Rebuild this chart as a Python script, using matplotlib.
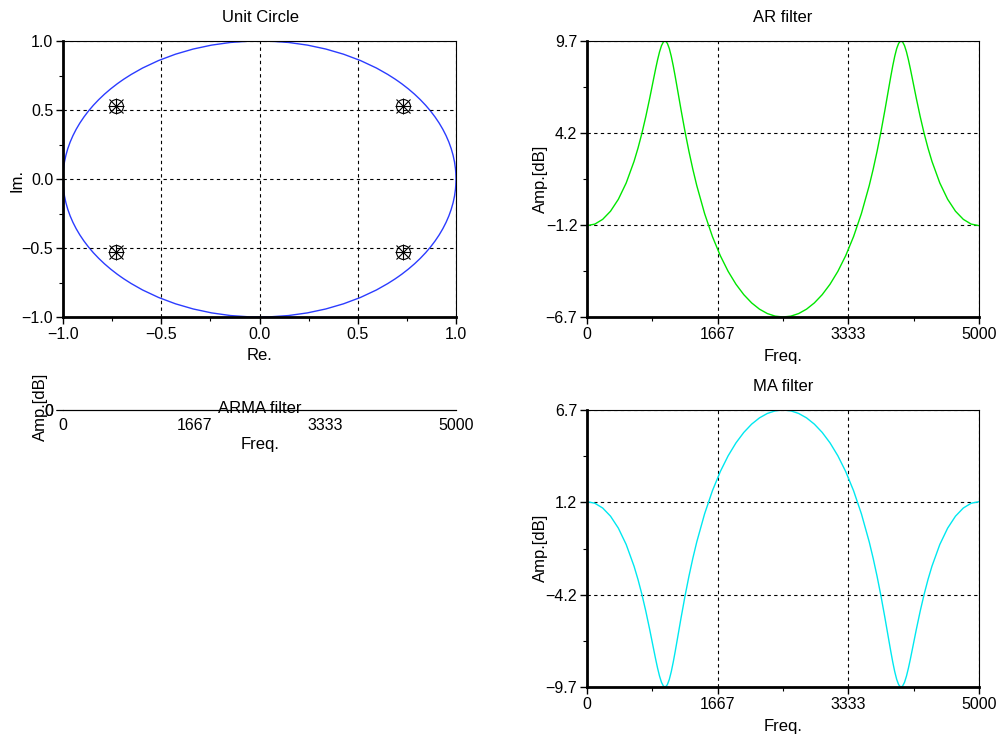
import matplotlib
matplotlib.use("Agg")
import matplotlib.pyplot as plt
from matplotlib.ticker import FixedLocator, FixedFormatter
from matplotlib.patches import Circle

plt.rcParams['font.family'] = ['Liberation Sans', 'DejaVu Sans']

# ---------------- data ----------------
# pole / zero locations
pole_re = [0.728, 0.728, -0.728, -0.728]
pole_im = [0.529, -0.529, 0.529, -0.529]
zero_re = [0.728, 0.728, -0.728, -0.728]
zero_im = [0.529, -0.529, 0.529, -0.529]

# frequency samples (Hz)
freq = [0, 100, 200, 300, 400, 500, 600, 650, 700, 750, 800, 850, 875, 900, 925,
        950, 975, 1000, 1025, 1050, 1075, 1100, 1125, 1150, 1200, 1250, 1300, 1350,
        1400, 1500, 1600, 1700, 1800, 1900, 2000, 2100, 2200, 2300, 2400, 2500,
        2600, 2700, 2800, 2900, 3000, 3100, 3200, 3300, 3400, 3500, 3600, 3650,
        3700, 3750, 3800, 3850, 3875, 3900, 3925, 3950, 3975, 4000, 4025, 4050,
        4075, 4100, 4125, 4150, 4200, 4250, 4300, 4350, 4400, 4500, 4600, 4700,
        4800, 4900, 5000]

ar_db = [-1.255, -1.163, -0.881, -0.398, 0.310, 1.278, 2.559, 3.338, 4.222, 5.215,
         6.310, 7.468, 8.041, 8.581, 9.055, 9.426, 9.652, 9.702, 9.564, 9.251,
         8.792, 8.230, 7.602, 6.940, 5.605, 4.331, 3.157, 2.091, 1.125, -0.538,
         -1.905, -3.034, -3.966, -4.731, -5.350, -5.840, -6.211, -6.471, -6.625,
         -6.676,
         -6.625, -6.471, -6.211, -5.840, -5.350, -4.731, -3.966, -3.034, -1.905,
         -0.538, 1.125, 2.091, 3.157, 4.331, 5.605, 6.940, 7.602, 8.230, 8.792,
         9.251, 9.564, 9.702, 9.652, 9.426, 9.055, 8.581, 8.041, 7.468, 6.310,
         5.215, 4.222, 3.338, 2.559, 1.278, 0.310, -0.398, -0.881, -1.163, -1.255]

ma_db = [1.255, 1.163, 0.881, 0.398, -0.310, -1.278, -2.559, -3.338, -4.222, -5.215,
         -6.310, -7.468, -8.041, -8.581, -9.055, -9.426, -9.652, -9.702, -9.564, -9.251,
         -8.792, -8.230, -7.602, -6.940, -5.605, -4.331, -3.157, -2.091, -1.125, 0.538,
         1.905, 3.034, 3.966, 4.731, 5.350, 5.840, 6.211, 6.471, 6.625,
         6.676,
         6.625, 6.471, 6.211, 5.840, 5.350, 4.731, 3.966, 3.034, 1.905,
         0.538, -1.125, -2.091, -3.157, -4.331, -5.605, -6.940, -7.602, -8.230, -8.792,
         -9.251, -9.564, -9.702, -9.652, -9.426, -9.055, -8.581, -8.041, -7.468, -6.310,
         -5.215, -4.222, -3.338, -2.559, -1.278, -0.310, 0.398, 0.881, 1.163, 1.255]

arma_freq = [0, 5000]
arma_db = [0.0, 0.0]

freq_ticks = [0, 1667, 3333, 5000]
freq_labels = ["0", "1667", "3333", "5000"]
ar_ticks = [-6.676, -1.217, 4.243, 9.702]
ar_labels = ["\u22126.7", "\u22121.2", "4.2", "9.7"]
ma_ticks = [-9.702, -4.243, 1.217, 6.676]
ma_labels = ["\u22129.7", "\u22124.2", "1.2", "6.7"]
uc_ticks = [-1.0, -0.5, 0.0, 0.5, 1.0]
uc_minor = [-0.75, -0.25, 0.25, 0.75]
freq_minor = [833, 2500, 4167]

# ---------------- figure ----------------
W, H = 1005, 739
fig = plt.figure(figsize=(W / 100, H / 100), dpi=100)


def rect(l, t, r, b):
    return [l / W, 1 - b / H, (r - l) / W, max((b - t) / H, 1e-5)]


def ptext(x, y, s, rot=0, size=12):
    fig.text(x / W, 1 - y / H, s, ha='center', va='center', rotation=rot,
             fontsize=size, color='black')


def style(ax, grid=True):
    for side in ('left', 'bottom'):
        ax.spines[side].set_linewidth(2.0)
    for side in ('top', 'right'):
        ax.spines[side].set_linewidth(0.8)
    ax.tick_params(which='major', direction='out', length=5, width=1.0,
                   labelsize=11.5, pad=2)
    ax.tick_params(which='minor', direction='out', length=3, width=0.8)
    ax.tick_params(top=False, right=False, which='both')
    if grid:
        ax.grid(True, which='major', color='black', linestyle=(0, (3, 3)),
                linewidth=0.8)


# Unit circle
ax1 = fig.add_axes(rect(63, 41, 456, 317))
ax1.add_patch(Circle((0, 0), 1.0, fill=False, edgecolor='#2b3cff', linewidth=1.0))
ax1.plot(zero_re, zero_im, linestyle='none', marker='o', markersize=10,
         markerfacecolor='none', markeredgecolor='black', markeredgewidth=0.8)
ax1.plot(pole_re, pole_im, linestyle='none', marker='x', markersize=10,
         color='black', markeredgewidth=0.8)
ax1.plot(pole_re, pole_im, linestyle='none', marker='+', markersize=11,
         color='black', markeredgewidth=0.8)
ax1.set_xlim(-1, 1)
ax1.set_ylim(-1, 1)
ax1.set_xticks(uc_ticks)
ax1.set_yticks(uc_ticks)
ax1.xaxis.set_minor_locator(FixedLocator(uc_minor))
ax1.yaxis.set_minor_locator(FixedLocator(uc_minor))
style(ax1)
ptext(260, 17, "Unit Circle")
ptext(260, 356, "Re.")
ptext(17, 180, "Im.", rot=90)

# AR filter
ax2 = fig.add_axes(rect(587, 41, 979, 317))
ax2.plot(freq, ar_db, color='#00e600', linewidth=1.0)
ax2.set_xlim(0, 5000)
ax2.set_ylim(ar_ticks[0], ar_ticks[-1])
ax2.xaxis.set_major_locator(FixedLocator(freq_ticks))
ax2.xaxis.set_major_formatter(FixedFormatter(freq_labels))
ax2.yaxis.set_major_locator(FixedLocator(ar_ticks))
ax2.yaxis.set_major_formatter(FixedFormatter(ar_labels))
ax2.xaxis.set_minor_locator(FixedLocator(freq_minor))
ax2.yaxis.set_minor_locator(FixedLocator([(ar_ticks[i] + ar_ticks[i + 1]) / 2 for i in range(3)]))
style(ax2)
ptext(783, 17, "AR filter")
ptext(783, 356, "Freq.")
ptext(540, 179, "Amp.[dB]", rot=90)

# ARMA filter (degenerate: constant 0 dB)
ax3 = fig.add_axes(rect(63, 410, 456, 410.01))
ax3.plot(arma_freq, arma_db, color='black', linewidth=0.8)
ax3.set_xlim(0, 5000)
ax3.set_ylim(-1, 1)
ax3.xaxis.set_major_locator(FixedLocator(freq_ticks))
ax3.xaxis.set_major_formatter(FixedFormatter(freq_labels))
ax3.yaxis.set_major_locator(FixedLocator([-1, 1]))
ax3.yaxis.set_major_formatter(FixedFormatter(["0", "0"]))
for side in ('left', 'bottom', 'top', 'right'):
    ax3.spines[side].set_linewidth(0.8)
ax3.tick_params(which='major', direction='out', length=5, width=0.8,
                labelsize=11.5, pad=2)
ax3.tick_params(axis='x', which='major', length=0, pad=6)
ax3.tick_params(top=False, right=False, which='both')
ptext(260, 408, "ARMA filter")
ptext(260, 444, "Freq.")
ptext(40, 407, "Amp.[dB]", rot=90)

# MA filter
ax4 = fig.add_axes(rect(587, 410, 979, 687))
ax4.plot(freq, ma_db, color='#00e8f0', linewidth=1.0)
ax4.set_xlim(0, 5000)
ax4.set_ylim(ma_ticks[0], ma_ticks[-1])
ax4.xaxis.set_major_locator(FixedLocator(freq_ticks))
ax4.xaxis.set_major_formatter(FixedFormatter(freq_labels))
ax4.yaxis.set_major_locator(FixedLocator(ma_ticks))
ax4.yaxis.set_major_formatter(FixedFormatter(ma_labels))
ax4.xaxis.set_minor_locator(FixedLocator(freq_minor))
ax4.yaxis.set_minor_locator(FixedLocator([(ma_ticks[i] + ma_ticks[i + 1]) / 2 for i in range(3)]))
style(ax4)
ptext(783, 386, "MA filter")
ptext(783, 727, "Freq.")
ptext(540, 548, "Amp.[dB]", rot=90)

fig.savefig("out.png", dpi=100)
